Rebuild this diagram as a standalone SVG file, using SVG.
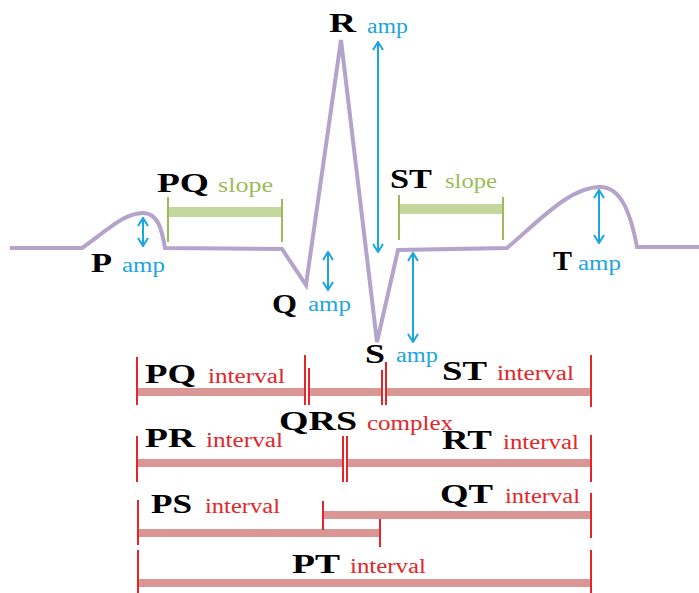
<svg xmlns="http://www.w3.org/2000/svg" width="699" height="593" viewBox="0 0 699 593">
<defs>
<marker id="ah" viewBox="0 0 10 12" refX="9" refY="6" markerWidth="10" markerHeight="12" markerUnits="userSpaceOnUse" orient="auto-start-reverse">
<path d="M1,1 L9,6 L1,11" fill="none" stroke="#1ba6e0" stroke-width="2"/>
</marker>
<style>
.ecg{fill:none;stroke:#b4a3cb;stroke-width:4;stroke-linejoin:miter}
.amp{stroke:#1ba6e0;stroke-width:2;fill:none;marker-start:url(#ah);marker-end:url(#ah)}
.sbar{stroke:#c4d79c;stroke-width:10}
.stick{stroke:#9bbb59;stroke-width:2}
.ibar{stroke:#d99695;stroke-width:8}
.itick{stroke:#e4262b;stroke-width:2}
.big{font-family:"Liberation Serif","Times New Roman",serif;font-weight:bold;font-size:27px;fill:#000}
.sm{font-family:"Liberation Serif","Times New Roman",serif;font-size:20px}
.blue{fill:#1ba6e0}
.green{fill:#9bbb59}
.red{fill:#e4262b}
</style>
</defs>
<rect width="699" height="593" fill="#fff"/>

<g id="ecg">
<path class="ecg" d="M10,248 L82,248 C110,228 125,213 143,213 C158,213 162,230 165,248 L282,249 L306,285 L341,40 L377,342 L398,250 L507,248 C540,220 570,187 600,187 C620,187 630,210 637,247 L699,247"/>
</g>

<g id="connectors">
<line class="amp" x1="143" y1="218" x2="143" y2="246"/>
<line class="amp" x1="328" y1="252" x2="328" y2="290"/>
<line class="amp" x1="378" y1="42" x2="378" y2="252"/>
<line class="amp" x1="413" y1="253" x2="413" y2="342"/>
<line class="amp" x1="599" y1="190" x2="599" y2="243"/>
</g>

<g id="pq-slope">
<line class="sbar" x1="168" y1="212" x2="282" y2="212"/>
<line class="stick" x1="168" y1="197" x2="168" y2="242"/>
<line class="stick" x1="282" y1="199" x2="282" y2="242"/>
<text class="big" x="157" y="192" textLength="52" lengthAdjust="spacingAndGlyphs">PQ</text>
<text class="sm green" x="218" y="192" textLength="55" lengthAdjust="spacingAndGlyphs">slope</text>
</g>

<g id="st-slope">
<line class="sbar" x1="399" y1="209" x2="503" y2="209"/>
<line class="stick" x1="399" y1="195" x2="399" y2="240"/>
<line class="stick" x1="503" y1="197" x2="503" y2="240"/>
<text class="big" x="390" y="188" textLength="42" lengthAdjust="spacingAndGlyphs">ST</text>
<text class="sm green" x="445" y="188" textLength="52" lengthAdjust="spacingAndGlyphs">slope</text>
</g>

<g id="p-amp">
<text class="big" x="91" y="272" textLength="21" lengthAdjust="spacingAndGlyphs">P</text>
<text class="sm blue" x="122" y="272" textLength="43" lengthAdjust="spacingAndGlyphs">amp</text>
</g>
<g id="q-amp">
<text class="big" x="272" y="313" textLength="25" lengthAdjust="spacingAndGlyphs">Q</text>
<text class="sm blue" x="308" y="311" textLength="43" lengthAdjust="spacingAndGlyphs">amp</text>
</g>
<g id="r-amp">
<text class="big" x="329" y="32" textLength="27" lengthAdjust="spacingAndGlyphs">R</text>
<text class="sm blue" x="367" y="33" textLength="41" lengthAdjust="spacingAndGlyphs">amp</text>
</g>
<g id="s-amp">
<text class="big" x="365" y="363" textLength="20" lengthAdjust="spacingAndGlyphs">S</text>
<text class="sm blue" x="396" y="362" textLength="42" lengthAdjust="spacingAndGlyphs">amp</text>
</g>
<g id="t-amp">
<text class="big" x="553" y="270" textLength="19" lengthAdjust="spacingAndGlyphs">T</text>
<text class="sm blue" x="578" y="270" textLength="43" lengthAdjust="spacingAndGlyphs">amp</text>
</g>

<g id="row1">
<line class="ibar" x1="137" y1="392" x2="305" y2="392"/>
<line class="ibar" x1="309" y1="392" x2="382" y2="392"/>
<line class="ibar" x1="386" y1="392" x2="591" y2="392"/>
<line class="itick" x1="137" y1="357" x2="137" y2="405"/>
<line class="itick" x1="305" y1="355" x2="305" y2="405"/>
<line class="itick" x1="309" y1="368" x2="309" y2="405"/>
<line class="itick" x1="382" y1="370" x2="382" y2="405"/>
<line class="itick" x1="386" y1="362" x2="386" y2="405"/>
<line class="itick" x1="591" y1="355" x2="591" y2="407"/>
<text class="big" x="145" y="383" textLength="51" lengthAdjust="spacingAndGlyphs">PQ</text>
<text class="sm red" x="208" y="383" textLength="77" lengthAdjust="spacingAndGlyphs">interval</text>
<text class="big" x="442" y="380" textLength="45" lengthAdjust="spacingAndGlyphs">ST</text>
<text class="sm red" x="497" y="380" textLength="77" lengthAdjust="spacingAndGlyphs">interval</text>
</g>

<g id="qrs">
<text class="big" x="279" y="430" textLength="78" lengthAdjust="spacingAndGlyphs">QRS</text>
<text class="sm red" x="367" y="430" textLength="86" lengthAdjust="spacingAndGlyphs">complex</text>
</g>

<g id="row2">
<line class="ibar" x1="137" y1="463" x2="343" y2="463"/>
<line class="ibar" x1="347" y1="463" x2="591" y2="463"/>
<line class="itick" x1="137" y1="436" x2="137" y2="482"/>
<line class="itick" x1="343" y1="436" x2="343" y2="482"/>
<line class="itick" x1="347" y1="436" x2="347" y2="482"/>
<line class="itick" x1="591" y1="435" x2="591" y2="482"/>
<text class="big" x="145" y="447" textLength="50" lengthAdjust="spacingAndGlyphs">PR</text>
<text class="sm red" x="206" y="447" textLength="77" lengthAdjust="spacingAndGlyphs">interval</text>
<text class="big" x="442" y="449" textLength="50" lengthAdjust="spacingAndGlyphs">RT</text>
<text class="sm red" x="503" y="449" textLength="76" lengthAdjust="spacingAndGlyphs">interval</text>
</g>

<g id="row3">
<line class="ibar" x1="323" y1="515" x2="591" y2="515"/>
<line class="ibar" x1="138" y1="533" x2="380" y2="533"/>
<line class="itick" x1="323" y1="501" x2="323" y2="530"/>
<line class="itick" x1="591" y1="493" x2="591" y2="538"/>
<line class="itick" x1="138" y1="500" x2="138" y2="545"/>
<line class="itick" x1="380" y1="519" x2="380" y2="547"/>
<text class="big" x="151" y="513" textLength="41" lengthAdjust="spacingAndGlyphs">PS</text>
<text class="sm red" x="205" y="513" textLength="75" lengthAdjust="spacingAndGlyphs">interval</text>
<text class="big" x="440" y="503" textLength="53" lengthAdjust="spacingAndGlyphs">QT</text>
<text class="sm red" x="505" y="503" textLength="75" lengthAdjust="spacingAndGlyphs">interval</text>
</g>

<g id="row4">
<line class="ibar" x1="138" y1="583" x2="591" y2="583"/>
<line class="itick" x1="138" y1="550" x2="138" y2="593"/>
<line class="itick" x1="591" y1="550" x2="591" y2="593"/>
<text class="big" x="292" y="573" textLength="48" lengthAdjust="spacingAndGlyphs">PT</text>
<text class="sm red" x="350" y="573" textLength="76" lengthAdjust="spacingAndGlyphs">interval</text>
</g>
</svg>
